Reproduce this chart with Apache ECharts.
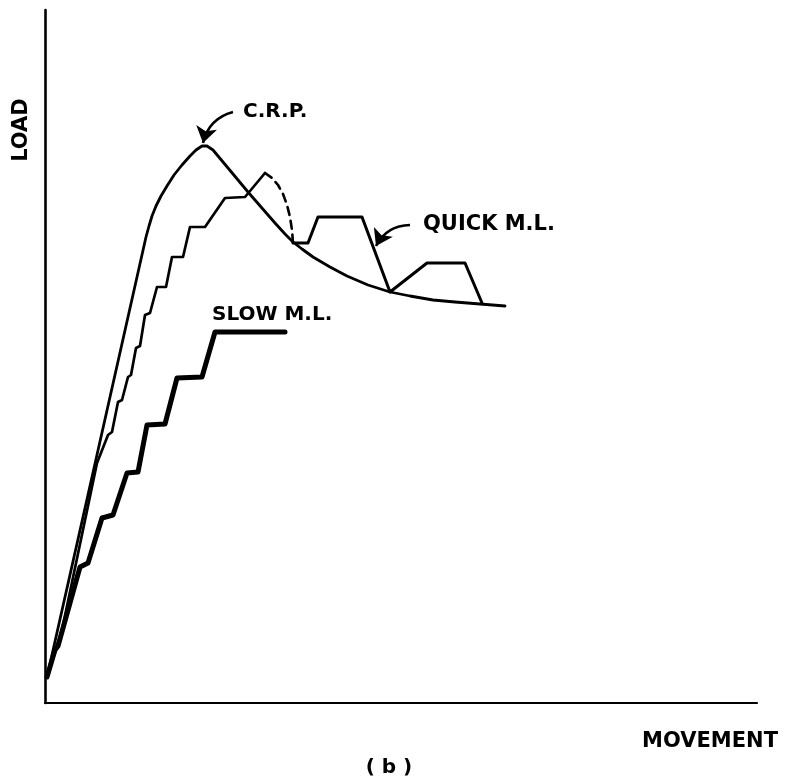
<!DOCTYPE html>
<html>
<head>
<meta charset="utf-8">
<script src="https://cdn.jsdelivr.net/npm/echarts@6/dist/echarts.min.js"></script>
<style>
html,body{margin:0;padding:0;background:#fff;}
#chart{width:785px;height:783px;}
</style>
</head>
<body>
<div id="chart"></div>
<script>
// Curve values (arbitrary units: movement on x, load on y)
const crpX   = [2, 101, 104, 107, 111, 116, 122, 129, 137, 145, 151, 157, 162, 168, 173, 203, 230, 240, 248, 257, 268, 285, 302, 323, 345, 365, 388, 410, 435, 460];
const crpY   = [26, 466, 477, 487, 497, 507, 517, 528, 538, 547, 553, 557, 557, 553, 547, 511, 480, 469, 461, 454, 446, 436, 427, 418, 411, 407, 403, 401, 399, 397];

const quickX = [2, 17, 52, 63, 67, 73, 77, 83, 86, 91, 95, 100, 105, 112, 121, 127, 138, 145, 160, 180, 200, 220];
const quickY = [26, 73, 240, 268, 271, 301, 303, 326, 328, 355, 357, 388, 390, 416, 416, 446, 446, 476, 476, 505, 506, 530];

const quickDashX = [220, 227, 233, 238, 242, 245, 247, 248];
const quickDashY = [530, 525, 518, 509, 498, 486, 473, 460];

const quickTailX = [248, 263, 273, 317, 345, 382, 420, 437];
const quickTailY = [460, 460, 486, 486, 411, 440, 440, 400];

const slowX = [2, 10, 13, 35, 43, 57, 68, 82, 93, 102, 120, 132, 157, 170, 240];
const slowY = [26, 53, 57, 136, 140, 185, 188, 230, 231, 278, 279, 325, 326, 371, 371];

// Annotation arrows: [tailX, tailY, headX, headY]
const crpArrow   = [188, 591, 158, 560];
const quickArrow = [365, 478, 331, 457];

const zip = (xs, ys) => xs.map((x, i) => [x, ys[i]]);

const chart = echarts.init(document.getElementById('chart'));
const font = '"DejaVu Sans", "Liberation Sans", sans-serif';
const black = '#000';

const lineSeries = (name, xs, ys, width, type) => ({
  type: 'line',
  name: name,
  data: zip(xs, ys),
  showSymbol: false,
  symbol: 'none',
  smooth: false,
  silent: true,
  animation: false,
  lineStyle: { color: black, width: width, type: type || 'solid', cap: 'round', join: 'round' }
});

const arrowSeries = (a) => ({
  type: 'lines',
  coordinateSystem: 'cartesian2d',
  silent: true,
  animation: false,
  symbol: ['none', 'arrow'],
  symbolSize: [11, 16],
  lineStyle: { color: black, width: 2.6, curveness: -0.3, opacity: 1 },
  data: [{ coords: [[a[0], a[1]], [a[2], a[3]]] }]
});

chart.setOption({
  backgroundColor: '#fff',
  animation: false,
  grid: { left: 45, right: 28, top: 10, bottom: 80 },
  xAxis: {
    type: 'value', min: 0, max: 712,
    axisLine: { show: true, lineStyle: { color: black, width: 2.2 } },
    axisTick: { show: false }, axisLabel: { show: false }, splitLine: { show: false }
  },
  yAxis: {
    type: 'value', min: 0, max: 693,
    axisLine: { show: true, lineStyle: { color: black, width: 2.6 } },
    axisTick: { show: false }, axisLabel: { show: false }, splitLine: { show: false }
  },
  series: [
    lineSeries('C.R.P.', crpX, crpY, 2.8),
    lineSeries('QUICK M.L.', quickX, quickY, 2.7),
    lineSeries('QUICK M.L. (unloading)', quickDashX, quickDashY, 2.6, [8, 6]),
    lineSeries('QUICK M.L. ', quickTailX, quickTailY, 3),
    lineSeries('SLOW M.L.', slowX, slowY, 5),
    arrowSeries(crpArrow),
    arrowSeries(quickArrow)
  ],
  graphic: [
    { type: 'text', x: 22, y: 130, rotation: Math.PI / 2,
      style: { text: 'LOAD', font: 'bold 21px ' + font, fill: black, align: 'center', verticalAlign: 'middle' } },
    { type: 'text', x: 778, y: 742,
      style: { text: 'MOVEMENT', font: 'bold 21px ' + font, fill: black, align: 'right', verticalAlign: 'middle' } },
    { type: 'text', x: 389, y: 768,
      style: { text: '( b )', font: 'bold 20px ' + font, fill: black, align: 'center', verticalAlign: 'middle' } },
    { type: 'text', x: 243, y: 112,
      style: { text: 'C.R.P.', font: 'bold 20px ' + font, fill: black, align: 'left', verticalAlign: 'middle' } },
    { type: 'text', x: 423, y: 225,
      style: { text: 'QUICK M.L.', font: 'bold 21px ' + font, fill: black, align: 'left', verticalAlign: 'middle' } },
    { type: 'text', x: 212, y: 315,
      style: { text: 'SLOW M.L.', font: 'bold 20px ' + font, fill: black, align: 'left', verticalAlign: 'middle' } }
  ]
});
</script>
</body>
</html>
